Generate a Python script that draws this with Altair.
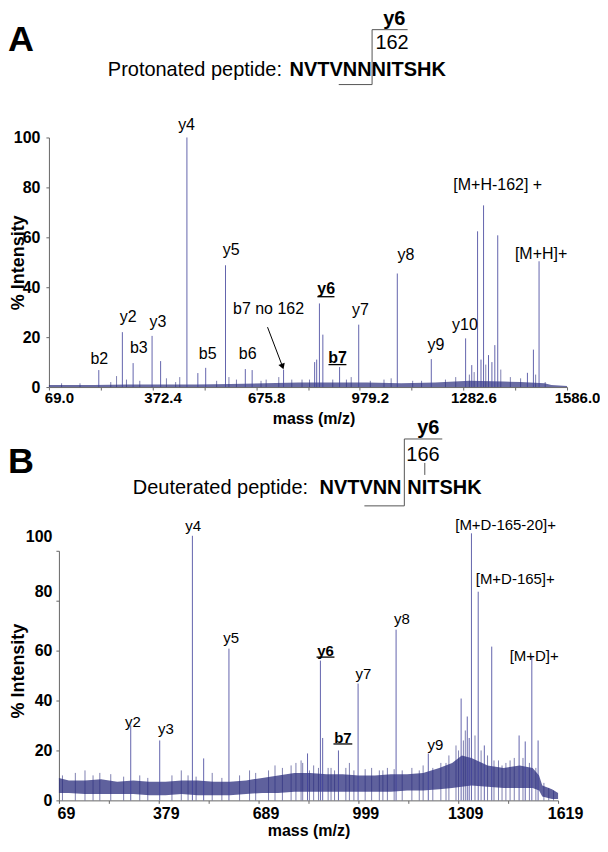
import altair as alt
import pandas as pd

FONT = "Liberation Sans"
PEAK = "#3c3e98"
NOISE = "#2a2c7c"
AXC = "#666666"

# ---------------- Panel A data ----------------
a_peak_mz = [215, 284, 315.5, 371, 396, 473, 505, 528, 586, 644, 664, 756, 847, 853, 861, 871,
             920, 976, 1089, 1188.5, 1289, 1307, 1324, 1334, 1341.5, 1356, 1366, 1374.5, 1383,
             1470, 1487.5, 1504]
a_peak_int = [6.8, 22, 9.6, 20.5, 10.4, 100, 5.6, 7.7, 48.8, 7.2, 6.8, 7, 10, 11, 33.5, 21,
              8, 25, 45.5, 11.2, 19.5, 8.8, 62.4, 11, 72.8, 12.8, 10, 16.8, 60.8,
              5.7, 15, 50.4]
a_small_mz = [106, 267, 296, 335, 413, 452, 596, 618, 705, 742, 832, 900, 954, 1071, 1134,
              1314, 1348, 1392, 1494, 1522, 160, 250, 440, 560, 690, 780, 810, 940, 1010, 1050,
              1160, 1230, 1260, 1300, 1420, 1450]
a_small_int = [1.5, 4.4, 3, 2.5, 3.5, 4, 4, 3, 3, 4, 3, 3, 4, 3.5, 2.5, 6, 9, 7, 5, 2, 1.5, 2,
               2, 2.5, 2.5, 3, 3, 3, 2.5, 3, 2.5, 3, 4, 5, 4, 3.5]
a_noise_mz = [69, 200, 300, 400, 500, 600, 700, 800, 900, 1000, 1100, 1200, 1300, 1400,
              1450, 1520, 1540, 1586]
a_noise_hi = [0.8, 0.8, 1, 1, 1, 1.2, 1.5, 1.8, 1.8, 1.8, 1.5, 1.8, 2.5, 2.2, 2, 1.5, 0.8, 0.4]

a_lab_text = ["b2", "y2", "b3", "y3", "y4", "b5", "y5", "b6", "b7 no 162", "y7", "y8", "y9",
              "y10", "[M+H-162] +", "[M+H]+"]
a_lab_mz = [216.6, 301, 332, 388, 472, 534, 602.5, 651, 712, 981, 1114, 1202, 1287, 1383, 1510]
a_lab_int = [11.2, 28, 15.8, 26, 105, 13.4, 54.8, 13.4, 31.4, 30.8, 53, 17, 24.8, 80.8, 53.4]
a_bold_text = ["y6", "b7"]
a_bold_mz = [880.6, 914]
a_bold_int = [39.2, 11.6]
a_ul_x1 = [855, 887.5]
a_ul_x2 = [905, 940]
a_ul_int = [36.2, 9.0]
a_arrow_mz = [709, 753]
a_arrow_int = [24, 8.2]

a_xticks = [69.0, 220.7, 372.4, 524.1, 675.8, 827.5, 979.2, 1130.9, 1282.6, 1434.3, 1586.0]
a_xlabels = [69.0, 372.4, 675.8, 979.2, 1282.6, 1586.0]

# ---------------- Panel B data ----------------
b_peak_mz = [292, 382, 483.5, 518.5, 597, 841, 881, 888, 937, 998, 1116, 1216, 1318, 1337,
             1343, 1350, 1371, 1390, 1413, 1498, 1517, 1537.5, 1557]
b_peak_int = [30, 24, 106, 16.8, 60.8, 18.8, 56, 25, 20, 46.8, 68.4, 18.8, 40.8, 33.6,
              25, 107, 83.6, 22, 61.6, 26, 23.6, 57.5, 24]
b_small_mz = [150, 196, 449, 661, 763, 821, 826, 847, 914, 971, 1064, 1089, 1188, 1271,
              1302, 1331, 1361, 1434, 1457, 1483,
              80, 120, 175, 230, 270, 320, 345, 420, 470, 495, 545, 575, 630, 680, 720, 740,
              790, 805, 860, 875, 905, 925, 960, 985, 1020, 1040, 1075, 1110, 1135, 1165,
              1200, 1230, 1255, 1280, 1310, 1325, 1380, 1400, 1420, 1445, 1470, 1510, 1530,
              1550, 1575, 1590, 1605]
b_small_int = [12, 11, 12, 12, 13, 16, 15, 12, 13, 15, 12, 13, 12, 15, 22, 28, 26, 16, 15, 17,
               10, 11, 10, 10.5, 9.5, 10, 9, 10, 10, 9.5, 11, 9, 10, 11, 12, 14,
               14, 15, 14, 13, 13, 12, 13, 12, 12.5, 13, 12, 12.5, 12, 13,
               14, 13, 15, 18, 20, 24, 20, 18, 16, 14, 16, 17, 15,
               13, 7, 5, 4]
b_noise_mz = [69, 100, 150, 200, 250, 300, 350, 400, 450, 500, 550, 600, 650, 700, 750, 800,
              850, 900, 950, 1000, 1050, 1100, 1150, 1200, 1250, 1290, 1320, 1350, 1400, 1450,
              1500, 1540, 1560, 1570, 1600, 1619]
b_noise_lo = [3, 3, 2.5, 2.5, 2.5, 2.5, 2, 2, 2.5, 2, 2, 2, 2.5, 3, 3, 3.5,
              3.5, 3.5, 3.5, 3.5, 3.5, 3.5, 4, 4, 4.5, 5, 5.5, 6, 5.5, 5,
              5, 5, 4, 1.5, 0.5, 0.5]
b_noise_hi = [9, 8, 8, 8.5, 7.5, 8, 7.5, 7.5, 8, 8, 7.5, 7.5, 8, 9, 10, 11,
              11, 10.5, 10.5, 10, 10, 10.5, 10.5, 11, 13, 15, 18, 17, 14, 13,
              14, 13, 10, 6, 4.5, 3]

b_lab_text = ["y2", "y3", "y4", "y5", "y7", "y8", "y9", "[M+D-165-20]+", "[M+D-165]+", "[M+D]+"]
b_lab_mz = [299, 401, 486, 604, 1014.5, 1134, 1238, 1456, 1486, 1545]
b_lab_int = [31.2, 28.6, 110, 65, 50.8, 72.8, 22.2, 110.4, 88.8, 58]
b_bold_text = ["y6", "b7"]
b_bold_mz = [897, 951]
b_bold_int = [60, 25]
b_ul_x1 = [869, 921.5]
b_ul_x2 = [924.6, 980]
b_ul_int = [57.4, 22.6]

b_xticks = [69, 224, 379, 534, 689, 844, 999, 1154, 1309, 1464, 1619]
b_xlabels = [69, 379, 689, 999, 1309, 1619]


def txt(t, x, y, size, weight="normal", align="left", baseline="alphabetic"):
    return alt.Chart(pd.DataFrame({"t": [t]})).mark_text(
        font=FONT, fontSize=size, fontWeight=weight, align=align, baseline=baseline,
        color="black").encode(x=alt.value(x), y=alt.value(y), text="t:N")


def seg(x1, y1, x2, y2):
    return alt.Chart(pd.DataFrame({"k": [0]})).mark_rule(color="#555555", strokeWidth=1).encode(
        x=alt.value(x1), x2=alt.value(x2), y=alt.value(y1), y2=alt.value(y2))


def panel(peak_mz, peak_int, small_mz, small_int, noise_mz, noise_lo, noise_hi,
          lab_text, lab_mz, lab_int, lab_size, bold_text, bold_mz, bold_int,
          ul_x1, ul_x2, ul_int, X, Y, noise_opacity):
    peaks = pd.DataFrame({"mz": peak_mz, "i": peak_int, "z": [0] * len(peak_mz)})
    small = pd.DataFrame({"mz": small_mz, "i": small_int, "z": [0] * len(small_mz)})
    noise = pd.DataFrame({"mz": noise_mz, "i": noise_lo, "i2": noise_hi})
    labs = pd.DataFrame({"mz": lab_mz, "i": lab_int, "t": lab_text})
    bolds = pd.DataFrame({"mz": bold_mz, "i": bold_int, "t": bold_text})
    uls = pd.DataFrame({"mz": ul_x1, "mz2": ul_x2, "i": ul_int})
    l_noise = alt.Chart(noise).mark_area(color=NOISE, opacity=noise_opacity,
                                         interpolate="linear").encode(
        x=X, y=Y, y2=alt.Y2("i2:Q"))
    l_small = alt.Chart(small).mark_rule(color=NOISE, strokeWidth=1, opacity=0.6).encode(
        x=X, y=Y, y2=alt.Y2("z:Q"))
    l_peaks = alt.Chart(peaks).mark_rule(color=PEAK, strokeWidth=1, opacity=0.8).encode(
        x=X, y=Y, y2=alt.Y2("z:Q"))
    l_labs = alt.Chart(labs).mark_text(font=FONT, fontSize=lab_size, color="black",
                                       baseline="middle", align="center").encode(
        x=X, y=Y, text="t:N")
    l_bold = alt.Chart(bolds).mark_text(font=FONT, fontSize=lab_size, fontWeight="bold",
                                        color="black", baseline="middle", align="center").encode(
        x=X, y=Y, text="t:N")
    l_ul = alt.Chart(uls).mark_rule(color="black", strokeWidth=1.3).encode(
        x=X, x2=alt.X2("mz2:Q"), y=Y)
    return [l_noise, l_small, l_peaks, l_labs, l_bold, l_ul]


def lab_expr(vals, fmt):
    arr = ",".join(str(v) for v in vals)
    return f"indexof([{arr}], datum.value) >= 0 ? format(datum.value, '{fmt}') : ''"


# ---------------- Panel A ----------------
XA = alt.X("mz:Q", scale=alt.Scale(domain=[69, 1586], nice=False, zero=False),
           axis=alt.Axis(values=a_xticks, labelExpr=lab_expr(a_xlabels, ".1f"),
                         labelFont=FONT, labelFontSize=15, labelFontWeight="bold",
                         labelColor="black", labelAlign="center", labelOffset=10,
                         labelPadding=0, labelFlush=False, labelOverlap=False,
                         tickSize=3, tickColor=AXC, domainColor=AXC, grid=False,
                         title="mass (m/z)", titleFont=FONT, titleFontSize=16,
                         titleFontWeight="bold", titleColor="black", titleX=265,
                         titleY=23, titleBaseline="top", titleAlign="center"))
YA = alt.Y("i:Q", scale=alt.Scale(domain=[0, 100], nice=False, zero=True),
           axis=alt.Axis(values=[0, 20, 40, 60, 80, 100], format="d", labelFont=FONT,
                         labelFontSize=16, labelFontWeight="bold", labelColor="black",
                         labelPadding=6, labelFlush=False, tickSize=3, tickColor=AXC,
                         domainColor=AXC, grid=False, title="% Intensity",
                         titleFont=FONT, titleFontSize=18, titleFontWeight="bold",
                         titleColor="black", titleAngle=270, titleX=-30, titleY=125,
                         titleBaseline="middle", titleAlign="center"))

a_layers = panel(a_peak_mz, a_peak_int, a_small_mz, a_small_int, a_noise_mz,
                 [0] * len(a_noise_mz), a_noise_hi, a_lab_text, a_lab_mz, a_lab_int, 16,
                 a_bold_text, a_bold_mz, a_bold_int, a_ul_x1, a_ul_x2, a_ul_int, XA, YA, 0.7)

arrow = pd.DataFrame({"mz": a_arrow_mz, "i": a_arrow_int})
a_arrow_line = alt.Chart(arrow).mark_line(color="black", strokeWidth=1).encode(x=XA, y=YA)
a_arrow_head = alt.Chart(arrow.tail(1)).mark_point(shape="triangle-down", filled=True,
                                                   size=45, color="black", opacity=1,
                                                   angle=340).encode(x=XA, y=YA)

a_header = [
    txt("A", -41, -87, 36, "bold"),
    txt("Protonated peptide:", 59, -62, 20),
    txt("NVTVNNNITSHK", 241, -62, 20, "bold"),
    txt("162", 327, -89, 20),
    txt("y6", 346, -113, 20, "bold", align="center"),
    seg(323.7, -108, 323.7, -53),
    seg(323.7, -108, 359.3, -108),
    seg(290.3, -53, 323.7, -53),
]

chartA = alt.layer(*a_layers, a_arrow_line, a_arrow_head, *a_header).properties(
    width=519, height=250)

# ---------------- Panel B ----------------
XB = alt.X("mz:Q", scale=alt.Scale(domain=[69, 1619], range=[10, 510], nice=False, zero=False),
           axis=alt.Axis(values=b_xticks, labelExpr=lab_expr(b_xlabels, "d"),
                         labelFont=FONT, labelFontSize=16, labelFontWeight="bold",
                         labelColor="black", labelAlign="center", labelOffset=7,
                         labelPadding=2, labelFlush=False, labelOverlap=False,
                         tickSize=3, tickColor=AXC, domainColor=AXC, grid=False,
                         title="mass (m/z)", titleFont=FONT, titleFontSize=16,
                         titleFontWeight="bold", titleColor="black", titleX=260,
                         titleY=22, titleBaseline="top", titleAlign="center"))
YB = alt.Y("i:Q", scale=alt.Scale(domain=[0, 100], nice=False, zero=True),
           axis=alt.Axis(values=[0, 20, 40, 60, 80, 100], format="d", labelFont=FONT,
                         labelFontSize=16, labelFontWeight="bold", labelColor="black",
                         labelPadding=4, labelFlush=False, tickSize=3, tickColor=AXC,
                         domainColor=AXC, grid=False, offset=-10,
                         labelOffset={"condition": [{"test": "datum.value == 100", "value": -14},
                                                    {"test": "datum.value == 80", "value": -9}],
                                      "value": 0},
                         title="% Intensity", titleFont=FONT, titleFontSize=18,
                         titleFontWeight="bold", titleColor="black", titleAngle=270,
                         titleX=-40, titleY=120, titleBaseline="middle", titleAlign="center"))

b_layers = panel(b_peak_mz, b_peak_int, b_small_mz, b_small_int, b_noise_mz, b_noise_lo,
                 b_noise_hi, b_lab_text, b_lab_mz, b_lab_int, 15, b_bold_text, b_bold_mz,
                 b_bold_int, b_ul_x1, b_ul_x2, b_ul_int, XB, YB, 0.75)

b_header = [
    txt("B", -41, -78, 36, "bold"),
    txt("Deuterated peptide:", 84, -57, 20),
    txt("NVTVNN", 271, -57, 20, "bold"),
    txt("NITSHK", 359, -57, 20, "bold"),
    txt("166", 358, -90, 20),
    txt("y6", 380, -117, 20, "bold", align="center"),
    seg(356, -112, 356, -45),
    seg(356, -112, 394, -112),
    seg(316, -45, 356, -45),
    seg(376.5, -88, 376.5, -76),
]

chartB = alt.layer(*b_layers, *b_header).properties(width=510, height=250)

chart = alt.vconcat(chartA, chartB, spacing=164, bounds="flush").properties(
    padding=0).configure_view(stroke=None)

chart.save("out.html", embed_options={"renderer": "svg", "actions": False})
